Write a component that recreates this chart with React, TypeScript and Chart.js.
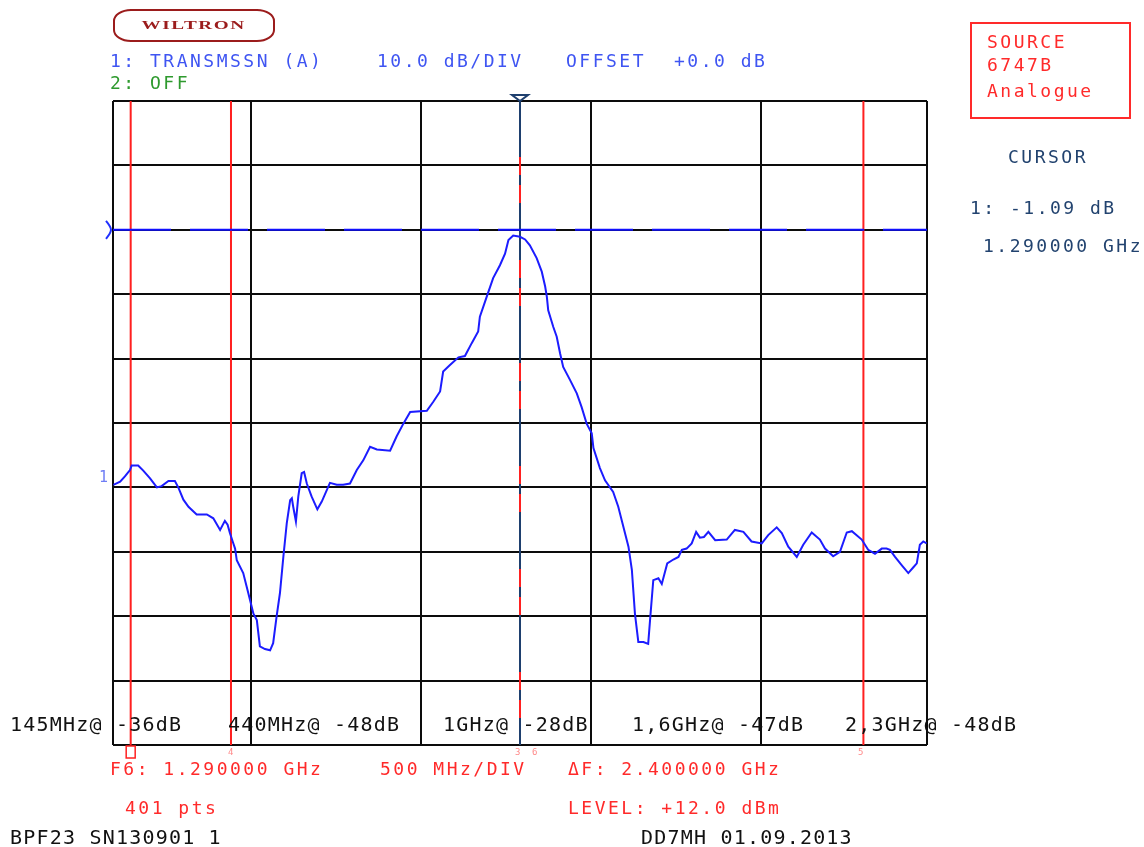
import React, { useEffect, useRef } from "react";
import { Chart, registerables } from "chart.js";

Chart.register(...registerables);

// ---- data ----
const freqMHz = [
  94, 114, 128, 143, 148, 167, 182, 202, 222, 236,
  256, 275, 285, 300, 315, 339, 369, 388, 408, 422,
  430, 437, 445, 452, 457, 476, 486, 496, 506, 516,
  525, 540, 555, 564, 574, 584, 594, 604, 614, 619,
  623, 631, 638, 648, 655, 663, 677, 694, 707, 731,
  751, 770, 790, 810, 829, 849, 869, 908, 927, 947,
  967, 1016, 1035, 1055, 1064, 1084, 1109, 1128, 1148, 1167,
  1172, 1194, 1211, 1231, 1246, 1256, 1270, 1290, 1305, 1319,
  1339, 1354, 1364, 1369, 1373, 1388, 1398, 1408, 1417, 1437,
  1457, 1471, 1486, 1501, 1506, 1525, 1540, 1564, 1579, 1594,
  1609, 1619, 1628, 1638, 1653, 1667, 1674, 1682, 1697, 1707,
  1723, 1741, 1756, 1766, 1780, 1795, 1808, 1819, 1831, 1844,
  1864, 1898, 1922, 1947, 1971, 2001, 2020, 2045, 2060, 2079,
  2104, 2123, 2148, 2172, 2187, 2211, 2231, 2251, 2266, 2295,
  2314, 2334, 2354, 2368, 2378, 2393, 2413, 2432, 2447, 2457,
  2466, 2476, 2486,
];

const transmissionDb = [
  -39.6, -39.1, -38.3, -37.3, -36.6, -36.6, -37.4, -38.6, -40.0, -39.8,
  -39.0, -39.0, -40.0, -41.9, -43.0, -44.2, -44.2, -44.8, -46.6, -45.2,
  -45.8, -47.1, -48.4, -49.5, -51.3, -53.3, -55.4, -57.5, -59.6, -60.6,
  -64.7, -65.1, -65.3, -64.2, -60.1, -56.4, -50.8, -45.6, -42.0, -41.7,
  -43.0, -45.3, -41.4, -37.8, -37.6, -39.4, -41.4, -43.4, -42.2, -39.3,
  -39.6, -39.6, -39.4, -37.3, -35.8, -33.7, -34.1, -34.3, -32.1, -30.1,
  -28.3, -28.1, -26.7, -25.1, -22.0, -21.0, -19.8, -19.6, -17.6, -15.8,
  -13.5, -10.1, -7.5, -5.5, -3.7, -1.6, -0.9, -1.09, -1.5, -2.4,
  -4.4, -6.5, -8.8, -10.4, -12.5, -15.1, -16.6, -19.2, -21.3, -23.3,
  -25.4, -27.5, -30.1, -31.6, -33.9, -37.0, -38.9, -40.7, -43.0, -46.1,
  -49.2, -52.8, -59.6, -64.0, -64.0, -64.3, -59.6, -54.4, -54.1, -55.0,
  -51.8, -51.2, -50.8, -49.7, -49.5, -48.7, -46.9, -47.8, -47.7, -46.9,
  -48.2, -48.1, -46.6, -46.9, -48.4, -48.7, -47.4, -46.2, -47.1, -49.2,
  -50.8, -48.9, -47.0, -48.1, -49.5, -50.7, -50.0, -47.0, -46.8, -48.1,
  -49.7, -50.3, -49.5, -49.5, -49.7, -50.8, -52.1, -53.3, -52.4, -51.8,
  -48.9, -48.4, -48.7,
];

const xMinMHz = 93;
const xMaxMHz = 2487;
const xGridMHz = [500, 1000, 1500, 2000];
const yMinDb = -80;
const yMaxDb = 20;
const yStepDb = 10;
const refLevelDb = 0;
const cursorMHz = 1290;
const redMarkerMHz = [145, 440, 2300];

const markerFreqText = ["145MHz", "440MHz", "1GHz", "1,6GHz", "2,3GHz"];
const markerDbText = ["-36dB", "-48dB", "-28dB", "-47dB", "-48dB"];

const headerText = ["1: TRANSMSSN (A)", "10.0 dB/DIV", "OFFSET", "+0.0 dB"];
const sourceText = ["SOURCE", "6747B", "Analogue"];

// ---- layout (positions only) ----
const markerLabelX = [10, 228, 443, 632, 845];
const headerX = [110, 377, 566, 674];

const MONO = "'DejaVu Sans Mono', monospace";

type TProps = {
  x: number;
  cy: number;
  color: string;
  size?: number;
  ls?: number;
  children: React.ReactNode;
};

function T({ x, cy, color, size = 18, ls = 2.5, children }: TProps) {
  return (
    <div
      style={{
        position: "absolute",
        left: x,
        top: cy - size * 0.5,
        fontFamily: MONO,
        fontSize: size,
        lineHeight: `${size}px`,
        letterSpacing: ls,
        color,
        whiteSpace: "pre",
      }}
    >
      {children}
    </div>
  );
}

const overlayPlugin = {
  id: "overlayMarks",
  afterDatasetsDraw(chart: any) {
    const { ctx, scales } = chart;
    const xs = scales.x;
    const ys = scales.y;
    const top = chart.chartArea.top;
    const bottom = chart.chartArea.bottom;
    ctx.save();
    // cursor triangle at top
    const cx = xs.getPixelForValue(cursorMHz);
    ctx.strokeStyle = "#1e3f6e";
    ctx.lineWidth = 2;
    ctx.beginPath();
    ctx.moveTo(cx - 8, top - 6);
    ctx.lineTo(cx + 8, top - 6);
    ctx.lineTo(cx, top);
    ctx.closePath();
    ctx.stroke();
    // reference level chevron at left
    const ry = ys.getPixelForValue(refLevelDb);
    const lx = chart.chartArea.left;
    ctx.strokeStyle = "#2030ff";
    ctx.beginPath();
    ctx.moveTo(lx - 7, ry - 9);
    ctx.quadraticCurveTo(lx - 2, ry - 3, lx - 2, ry);
    ctx.quadraticCurveTo(lx - 2, ry + 3, lx - 7, ry + 9);
    ctx.stroke();
    // active marker box below first red marker
    const mx = xs.getPixelForValue(redMarkerMHz[0]);
    ctx.strokeStyle = "#ff2020";
    ctx.lineWidth = 1.5;
    ctx.strokeRect(mx - 4.5, bottom + 1, 9, 12);
    ctx.restore();
  },
};

export default function App() {
  const ref = useRef<HTMLCanvasElement | null>(null);

  useEffect(() => {
    if (!ref.current) return;
    const vline = (f: number) => [
      { x: f, y: yMaxDb },
      { x: f, y: yMinDb },
    ];
    const chart = new Chart(ref.current, {
      type: "scatter",
      data: {
        datasets: [
          {
            label: "trace",
            data: freqMHz.map((f, i) => ({ x: f, y: transmissionDb[i] })),
            showLine: true,
            borderColor: "#1c1cff",
            borderWidth: 2,
            pointRadius: 0,
            order: 0,
          },
          {
            label: "ref",
            data: [
              { x: xMinMHz, y: refLevelDb },
              { x: xMaxMHz, y: refLevelDb },
            ],
            showLine: true,
            borderColor: "#1010ff",
            borderWidth: 2,
            borderDash: [58, 19],
            pointRadius: 0,
            order: 1,
          },
          {
            label: "cursorRed",
            data: vline(cursorMHz),
            showLine: true,
            borderColor: "#ff2020",
            borderWidth: 2,
            borderDash: [18, 10, 18, 57],
            borderDashOffset: 47,
            pointRadius: 0,
            order: 2,
          },
          {
            label: "cursor",
            data: vline(cursorMHz),
            showLine: true,
            borderColor: "#1e3f6e",
            borderWidth: 2,
            pointRadius: 0,
            order: 3,
          },
          ...redMarkerMHz.map((f) => ({
            label: "marker" + f,
            data: vline(f),
            showLine: true,
            borderColor: "#ff2020",
            borderWidth: 2,
            pointRadius: 0,
            order: 4,
          })),
        ],
      },
      options: {
        responsive: false,
        animation: false,
        events: [],
        layout: { padding: { left: 113, top: 101, right: 217, bottom: 102 } },
        plugins: { legend: { display: false }, tooltip: { enabled: false } },
        scales: {
          x: {
            type: "linear",
            min: xMinMHz,
            max: xMaxMHz,
            afterBuildTicks: (s: any) => {
              s.ticks = [xMinMHz, ...xGridMHz, xMaxMHz].map((v) => ({ value: v }));
            },
            ticks: { display: false },
            grid: { color: "#0c0c0c", lineWidth: 2, drawTicks: false },
            border: { display: false },
          },
          y: {
            type: "linear",
            min: yMinDb,
            max: yMaxDb,
            ticks: { display: false, stepSize: yStepDb },
            grid: { color: "#0c0c0c", lineWidth: 2, drawTicks: false },
            border: { display: false },
          },
        },
      },
      plugins: [overlayPlugin],
    } as any);
    return () => chart.destroy();
  }, []);

  const blue = "#3f55f2";
  const red = "#ff2a2a";
  const dark = "#22436f";

  return (
    <div
      style={{
        position: "absolute",
        left: 0,
        top: 0,
        width: 1144,
        height: 847,
        background: "#fff",
        overflow: "hidden",
      }}
    >
      <canvas
        ref={ref}
        width={1144}
        height={847}
        style={{ position: "absolute", left: 0, top: 0, width: 1144, height: 847 }}
      />

      {/* logo */}
      <div
        style={{
          position: "absolute",
          left: 113,
          top: 9,
          width: 158,
          height: 29,
          border: "2px solid #9b1c1c",
          borderRadius: "18px / 12px",
          display: "flex",
          alignItems: "center",
          justifyContent: "center",
        }}
      >
        <span
          style={{
            fontFamily: "'Liberation Serif', serif",
            fontWeight: "bold",
            fontSize: 12,
            color: "#9b1c1c",
            letterSpacing: 1,
            display: "inline-block",
            transform: "scaleX(1.6)",
          }}
        >
          WILTRON
        </span>
      </div>

      {headerText.map((t, i) => (
        <T key={t} x={headerX[i]} cy={61} color={blue}>
          {t}
        </T>
      ))}
      <T x={110} cy={83} color="#2e9a2e">
        2: OFF
      </T>

      {/* source box */}
      <div
        style={{
          position: "absolute",
          left: 970,
          top: 22,
          width: 157,
          height: 93,
          border: "2px solid #ff2a2a",
        }}
      />
      {sourceText.map((t, i) => (
        <T key={t} x={987} cy={[42, 65, 91][i]} color={red}>
          {t}
        </T>
      ))}

      <T x={1008} cy={157} color={dark}>
        CURSOR
      </T>
      <T x={970} cy={208} color={dark}>
        1: -1.09 dB
      </T>
      <T x={983} cy={246} color={dark}>
        1.290000 GHz
      </T>

      <T x={99} cy={477} color="#6f7df5" size={15} ls={0}>
        1
      </T>

      {markerFreqText.map((t, i) => (
        <T key={t} x={markerLabelX[i]} cy={724} color="#111" size={20} ls={1.2}>
          {t + "@ " + markerDbText[i]}
        </T>
      ))}

      {/* small marker numbers */}
      <T x={228} cy={752} color="#ff8a8a" size={9} ls={0}>
        4
      </T>
      <T x={515} cy={752} color="#ff8a8a" size={9} ls={0}>
        3
      </T>
      <T x={532} cy={752} color="#ff8a8a" size={9} ls={0}>
        6
      </T>
      <T x={858} cy={752} color="#ff8a8a" size={9} ls={0}>
        5
      </T>

      <T x={110} cy={769} color={red}>
        F6: 1.290000 GHz
      </T>
      <T x={380} cy={769} color={red}>
        500 MHz/DIV
      </T>
      <T x={568} cy={769} color={red}>
        ΔF: 2.400000 GHz
      </T>
      <T x={125} cy={808} color={red}>
        401 pts
      </T>
      <T x={568} cy={808} color={red}>
        LEVEL: +12.0 dBm
      </T>
      <T x={10} cy={837} color="#111" size={20} ls={1.2}>
        BPF23 SN130901 1
      </T>
      <T x={641} cy={837} color="#111" size={20} ls={1.2}>
        DD7MH 01.09.2013
      </T>
    </div>
  );
}
